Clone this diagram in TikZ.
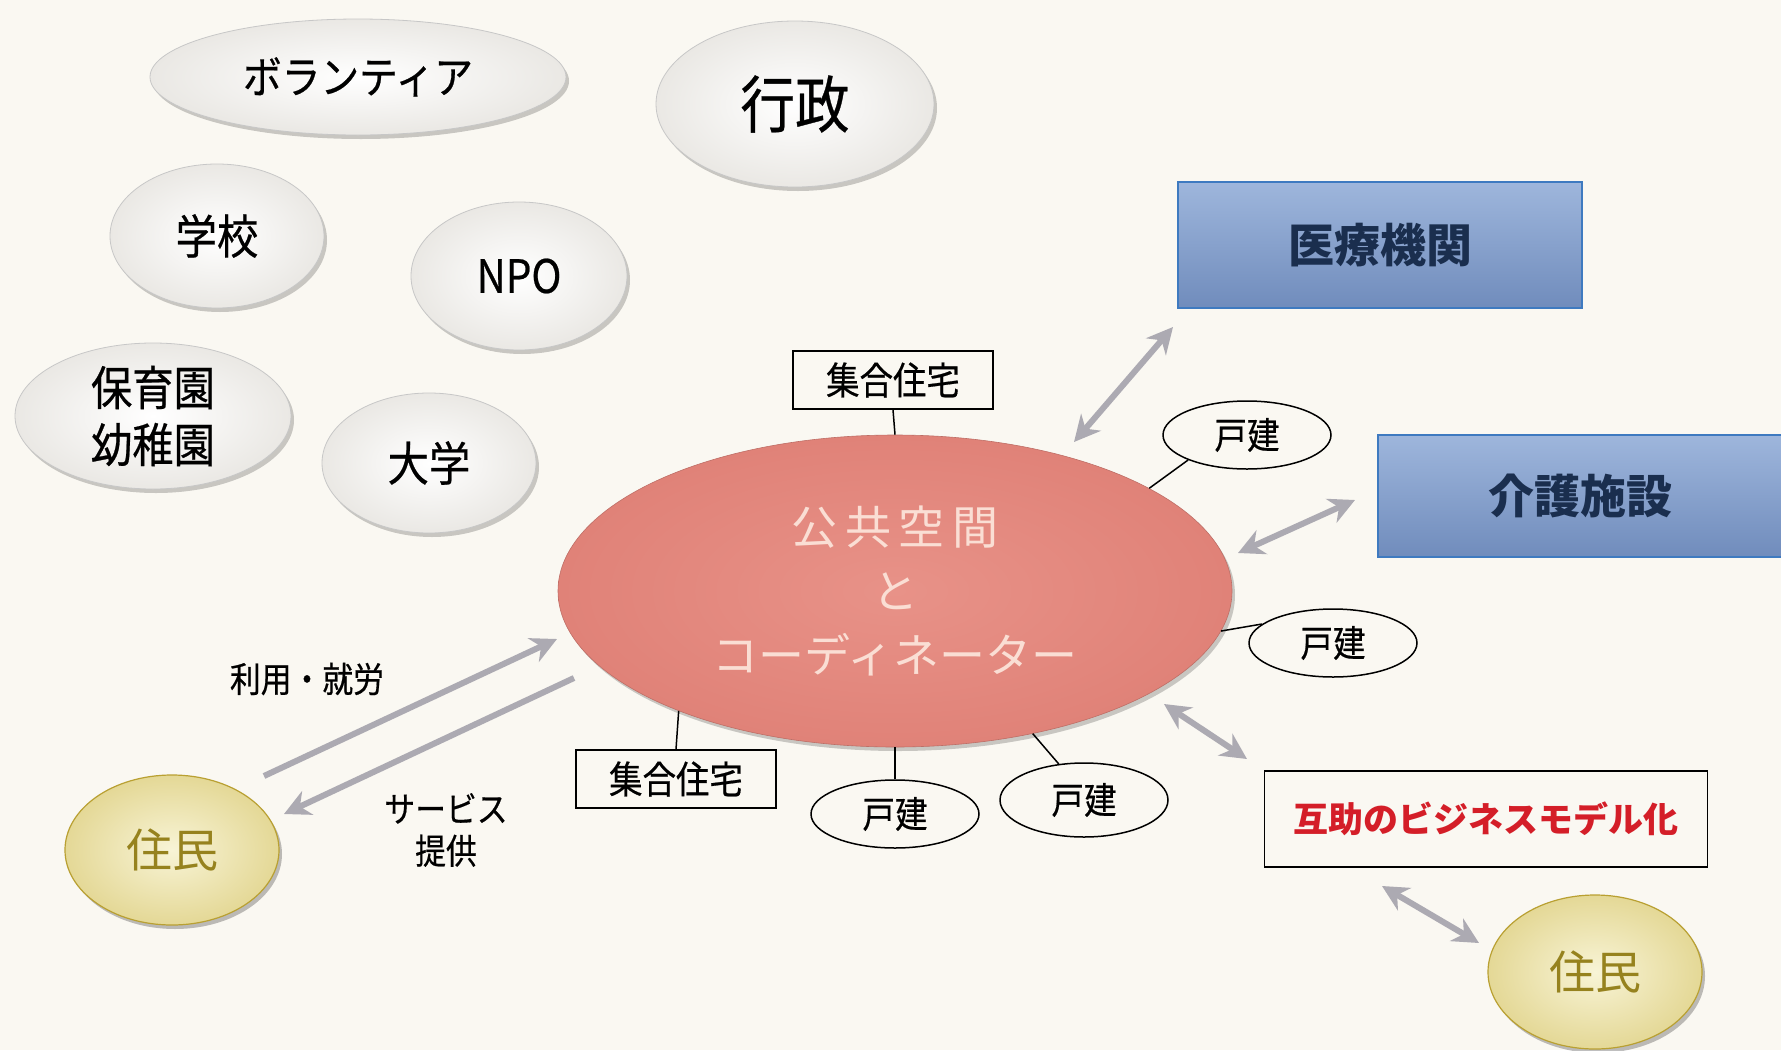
\documentclass[tikz,border=0pt]{standalone}
\usepackage{fontspec}
\newfontfamily\jp{Noto Sans CJK JP}
\newfontfamily\jpc{Noto Sans CJK JP}[FakeStretch=0.88,FakeBold=0.5]
\usetikzlibrary{shadows,arrows.meta,shapes.geometric}
\definecolor{paper}{RGB}{250,248,242}
\definecolor{coreIn}{RGB}{232,146,136}
\definecolor{coreOut}{RGB}{224,130,120}
\definecolor{coreTxt}{RGB}{250,222,212}
\definecolor{blueTop}{RGB}{158,182,220}
\definecolor{blueBot}{RGB}{112,140,188}
\definecolor{blueEdge}{RGB}{62,122,192}
\definecolor{navy}{RGB}{26,46,78}
\definecolor{redTxt}{RGB}{212,30,40}
\definecolor{resIn}{RGB}{248,244,214}
\definecolor{resOut}{RGB}{228,216,150}
\definecolor{resEdge}{RGB}{185,160,50}
\definecolor{resTxt}{RGB}{150,130,30}
\definecolor{orbOut}{RGB}{234,232,228}
\definecolor{arrowGray}{RGB}{172,170,178}
\tikzset{
  orb/.style={ellipse, inner sep=0pt, inner color=white, outer color=orbOut,
    draw=black!22, line width=0.8pt,
    drop shadow={shadow xshift=3pt, shadow yshift=-4pt, opacity=0.2, fill=black}},
  coreorb/.style={ellipse, inner sep=0pt, inner color=coreIn, outer color=coreOut,
    draw=coreOut!85!black, line width=0.6pt, text=coreTxt, align=center,
    drop shadow={shadow xshift=3pt, shadow yshift=-4pt, opacity=0.2, fill=black}},
  resorb/.style={ellipse, inner sep=0pt, inner color=resIn, outer color=resOut,
    draw=resEdge, line width=1.2pt, text=resTxt,
    drop shadow={shadow xshift=3pt, shadow yshift=-4pt, opacity=0.25, fill=black}},
  bluebox/.style={rectangle, top color=blueTop, bottom color=blueBot, draw=blueEdge,
    line width=2.5pt, text=navy, minimum width=404pt,
    font=\jp\bfseries\fontsize{46}{46}\selectfont},
  housebox/.style={rectangle, draw=black, line width=1.5pt, minimum width=200pt,
    minimum height=58pt, font=\jpc\fontsize{38}{38}\selectfont},
  detached/.style={ellipse, draw=black, line width=1.5pt, fill=paper, inner sep=0pt,
    minimum width=168pt, minimum height=68pt, font=\jpc\fontsize{37}{37}\selectfont},
  link/.style={draw=black, line width=1.5pt},
  twoway/.style={draw=arrowGray, line width=6pt,
    {Stealth[length=26pt,width=26pt]}-{Stealth[length=26pt,width=26pt]}},
  oneway/.style={draw=arrowGray, line width=6pt, -{Stealth[length=26pt,width=26pt]}},
  lbl/.style={font=\jpc\fontsize{35}{42}\selectfont, align=center}
}
\begin{document}
\begin{tikzpicture}[x=1pt,y=-1pt]
\useasboundingbox (0,0) rectangle (1781,1050);
\fill[paper] (0,0) rectangle (1781,1050);

% organisations
\node[orb, minimum width=416pt, minimum height=116pt, font=\jpc\fontsize{44}{44}\selectfont] (vol) at (358,77) {ボランティア};
\node[orb, minimum width=278pt, minimum height=166pt, font=\jpc\fontsize{62}{62}\selectfont] (gov) at (795,104) {行政};
\node[orb, minimum width=214pt, minimum height=144pt, font=\jpc\fontsize{47}{47}\selectfont] (sch) at (217,236) {学校};
\node[orb, minimum width=216pt, minimum height=148pt, font=\jpc\fontsize{46}{46}\selectfont] (npo) at (519,276) {NPO};
\node[orb, minimum width=276pt, minimum height=146pt, align=center, font=\jpc\fontsize{47}{57}\selectfont] (nur) at (153,416) {保育園\\幼稚園};
\node[orb, minimum width=214pt, minimum height=140pt, font=\jpc\fontsize{47}{47}\selectfont] (uni) at (429,463) {大学};

% core
\node[coreorb, minimum width=674pt, minimum height=312pt, font=\jp\fontsize{46}{64}\selectfont] (core) at (895,591) {公\,共\,空\,間\\と\\コーディネーター};

% housing
\node[housebox] (jtop) at (893,380) {集合住宅};
\node[housebox] (jbot) at (676,779) {集合住宅};
\node[detached] (t1) at (1247,435) {戸建};
\node[detached] (t2) at (1333,643) {戸建};
\node[detached] (t3) at (895,814) {戸建};
\node[detached, minimum height=74pt] (t4) at (1084,800) {戸建};

\draw[link] (jtop.south) -- (core.north);
\draw[link] (jbot.north) -- (core.209);
\draw[link] (t1.203) -- (core.22);
\draw[link] (t2.165) -- (core.-7);
\draw[link] (t3.north) -- (core.south);
\draw[link] (t4.125) -- (core.-46);

% right side
\node[bluebox, minimum height=126pt] (med) at (1380,245) {医療機関};
\node[bluebox, minimum height=122pt] (care) at (1580,496) {介護施設};
\node[rectangle, draw=black, line width=1.5pt, minimum width=443pt, minimum height=96pt,
      text=redTxt, font=\jp\bfseries\fontsize{35}{35}\selectfont] (biz) at (1486,819) {互助のビジネスモデル化};

% residents
\node[resorb, minimum width=214pt, minimum height=150pt, font=\jp\fontsize{46}{46}\selectfont] (resL) at (172,850) {住民};
\node[resorb, minimum width=214pt, minimum height=154pt, font=\jp\fontsize{46}{46}\selectfont] (resR) at (1595,972) {住民};

% arrows
\coordinate (a1s) at (1173,327); \coordinate (a1e) at (1074,442);
\coordinate (a2s) at (1355,500); \coordinate (a2e) at (1238,553);
\coordinate (a3s) at (1247,759); \coordinate (a3e) at (1164,704);
\coordinate (a4s) at (1382,886); \coordinate (a4e) at (1479,943);
\coordinate (u1s) at (264,776);  \coordinate (u1e) at (557,639);
\coordinate (u2s) at (574,678);  \coordinate (u2e) at (284,814);
\draw[twoway] (a1s) -- (a1e);
\draw[twoway] (a2s) -- (a2e);
\draw[twoway] (a3s) -- (a3e);
\draw[twoway] (a4s) -- (a4e);
\draw[oneway] (u1s) -- (u1e);
\draw[oneway] (u2s) -- (u2e);

% labels
\node[lbl] (use) at (307,679) {利用・就労};
\node[lbl] (svc) at (446,830) {サービス\\提供};
\end{tikzpicture}
\end{document}
